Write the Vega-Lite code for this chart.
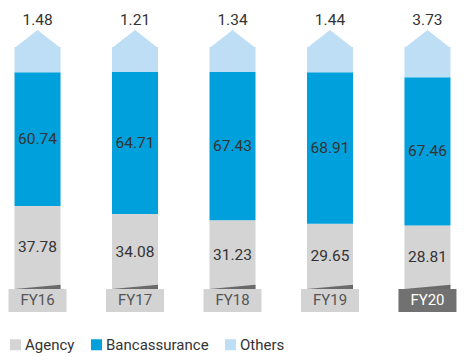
{
  "$schema": "https://vega.github.io/schema/vega-lite/v6.json",
  "width": 465,
  "height": 357,
  "padding": 0,
  "autosize": "none",
  "config": {"view": {"stroke": null}, "font": "Roboto"},
  "data": {
    "values": [
      {"fy": "FY16", "channel": "Agency", "value": 37.78},
      {"fy": "FY16", "channel": "Bancassurance", "value": 60.74},
      {"fy": "FY16", "channel": "Others", "value": 1.48},
      {"fy": "FY17", "channel": "Agency", "value": 34.08},
      {"fy": "FY17", "channel": "Bancassurance", "value": 64.71},
      {"fy": "FY17", "channel": "Others", "value": 1.21},
      {"fy": "FY18", "channel": "Agency", "value": 31.23},
      {"fy": "FY18", "channel": "Bancassurance", "value": 67.43},
      {"fy": "FY18", "channel": "Others", "value": 1.34},
      {"fy": "FY19", "channel": "Agency", "value": 29.65},
      {"fy": "FY19", "channel": "Bancassurance", "value": 68.91},
      {"fy": "FY19", "channel": "Others", "value": 1.44},
      {"fy": "FY20", "channel": "Agency", "value": 28.81},
      {"fy": "FY20", "channel": "Bancassurance", "value": 67.46},
      {"fy": "FY20", "channel": "Others", "value": 3.73}
    ]
  },
  "transform": [
    {"stack": "value", "groupby": ["fy"], "sort": [{"field": "channel", "order": "ascending"}], "as": ["y0", "y1"]},
    {"calculate": "(datum.y0 + datum.y1) / 2", "as": "mid"}
  ],
  "encoding": {
    "x": {"field": "fy", "type": "nominal", "scale": {"paddingInner": 0.528, "paddingOuter": 0.149}, "axis": null}
  },
  "layer": [
    {
      "transform": [{"filter": "datum.channel !== 'Others'"}],
      "mark": {"type": "bar"},
      "encoding": {
        "y": {"field": "y0", "type": "quantitative", "scale": {"domain": [-30.909, 131.36], "nice": false, "zero": false}, "axis": null},
        "y2": {"field": "y1"},
        "color": {
          "field": "channel", "type": "nominal",
          "scale": {"domain": ["Agency", "Bancassurance", "Others"], "range": ["#d4d4d4", "#00a0dc", "#bddef4"]},
          "legend": {
            "title": null, "orient": "none", "direction": "horizontal", "legendX": 8, "legendY": 337,
            "symbolType": "square", "symbolSize": 121, "symbolStrokeWidth": 0, "symbolOpacity": 1,
            "labelFont": "Roboto", "labelFontSize": 15, "labelColor": "#333333", "labelOffset": 2,
            "columnPadding": 14, "padding": 0
          }
        }
      }
    },
    {
      "transform": [{"filter": "datum.channel === 'Others'"}],
      "mark": {"type": "bar"},
      "encoding": {
        "y": {"field": "y0", "type": "quantitative"},
        "y2": {"datum": 110},
        "color": {"field": "channel", "type": "nominal"}
      }
    },
    {
      "transform": [{"filter": "datum.channel === 'Others'"}],
      "mark": {"type": "point", "shape": "M-1,0.04L0,-0.74L1,0.04Z", "filled": true, "opacity": 1, "strokeWidth": 0, "size": 2116, "color": "#bddef4"},
      "encoding": {"y": {"datum": 110, "type": "quantitative"}}
    },
    {
      "transform": [{"filter": "datum.channel === 'Agency'"}],
      "mark": {"type": "bar", "width": 58},
      "encoding": {
        "y": {"datum": 0, "type": "quantitative"},
        "y2": {"datum": -10.45},
        "color": {"condition": {"test": "datum.fy === 'FY20'", "value": "#717171"}, "value": "#d3d3d3"}
      }
    },
    {
      "transform": [{"filter": "datum.channel === 'Agency'"}],
      "mark": {"type": "point", "shape": "M-1,0L1,-0.18L1,0Z", "filled": true, "opacity": 1, "strokeWidth": 0, "size": 2116, "color": "#6a6a6a"},
      "encoding": {"y": {"datum": 0, "type": "quantitative"}}
    },
    {
      "transform": [{"filter": "datum.channel === 'Agency'"}],
      "mark": {"type": "text", "fontSize": 15, "baseline": "middle", "align": "center"},
      "encoding": {
        "y": {"datum": -5.2, "type": "quantitative"},
        "text": {"field": "fy"},
        "color": {"condition": {"test": "datum.fy === 'FY20'", "value": "#ffffff"}, "value": "#555555"}
      }
    },
    {
      "transform": [{"filter": "datum.channel !== 'Others'"}],
      "mark": {"type": "text", "fontSize": 15.5, "baseline": "middle", "align": "center", "color": "#333333"},
      "encoding": {
        "y": {"field": "mid", "type": "quantitative"},
        "text": {"field": "value", "type": "quantitative", "format": ".2f"}
      }
    },
    {
      "transform": [{"filter": "datum.channel === 'Others'"}],
      "mark": {"type": "text", "fontSize": 15.5, "baseline": "middle", "align": "center", "color": "#333333"},
      "encoding": {
        "y": {"datum": 122.3, "type": "quantitative"},
        "text": {"field": "value", "type": "quantitative", "format": ".2f"}
      }
    }
  ]
}
